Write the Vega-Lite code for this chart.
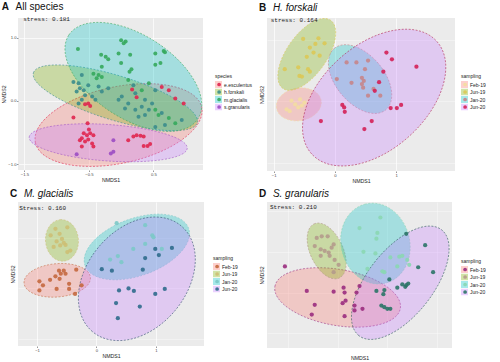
{
  "$schema": "https://vega.github.io/schema/vega-lite/v6.json",
  "background": "white",
  "padding": {"left": 1, "top": 2, "right": 0, "bottom": 0},
  "config": {
    "font": "Liberation Sans",
    "view": {"fill": "#EBEBEB", "stroke": null},
    "axis": {"grid": true, "gridColor": "#FFFFFF", "gridWidth": 0.7, "domain": false, "tickColor": "#333333", "tickSize": 1.5, "tickWidth": 0.5, "labelFontSize": 4.2, "labelColor": "#4D4D4D", "labelPadding": 0.5, "titleFontSize": 5.2, "titleFontWeight": "normal", "titleColor": "#222222", "titlePadding": 1},
    "legend": {"titleFontSize": 5, "titleFontWeight": "normal", "labelFontSize": 5, "clipHeight": 7, "rowPadding": 0.5, "titlePadding": 2, "symbolStrokeWidth": 0, "labelOffset": 2, "titleColor": "#222222", "labelColor": "#222222"},
    "title": {"fontSize": 10, "fontWeight": "bold", "anchor": "start", "frame": "bounds", "color": "#111111", "offset": 4, "subtitleFontSize": 10, "subtitleColor": "#111111", "subtitlePadding": -10}
  },
  "resolve": {"scale": {"color": "independent", "fill": "independent", "stroke": "independent", "shape": "independent", "size": "independent", "x": "independent", "y": "independent"}},
  "columns": 2,
  "spacing": {"row": 5, "column": 6},
  "concat": [
    {
      "title": {"text": "A", "subtitle": "\u200b\u00a0\u00a0\u00a0\u00a0\u00a0All species", "subtitleFontStyle": "normal"},
      "width": 185,
      "height": 152,
      "layer": [
        {
          "data": {"values": [
            {"g": "e.esculentus", "x": -0.04, "y": -0.38, "major": 2.64, "angle": -12},
            {"g": "h.forskali", "x": -0.09, "y": 0.05, "major": 2.66, "angle": 17},
            {"g": "m.glacialis", "x": 0.19, "y": 0.38, "major": 2.39, "angle": 33},
            {"g": "s.granularis", "x": -0.2, "y": -0.66, "major": 2.46, "angle": 4}
          ]},
          "mark": {"type": "point", "filled": true, "clip": true, "opacity": 1, "fillOpacity": 0.3, "strokeOpacity": 0.9, "strokeWidth": 0.6, "strokeDash": [2, 1.5]},
          "encoding": {
            "x": {"field": "x", "type": "quantitative", "scale": {"domain": [-1.6, 1.27], "nice": false, "zero": false}, "axis": {"values": [-1.5, -1.25, -1, -0.75, -0.5, -0.25, 0, 0.25, 0.5, 0.75, 1, 1.25], "format": ".1f", "title": "NMDS1", "labelExpr": "abs(datum.value*2 - round(datum.value*2)) > 0.01 ? '' : datum.label", "gridWidth": {"condition": {"test": "abs(datum.value*2 - round(datum.value*2)) > 0.01", "value": 0.35}, "value": 0.7}, "tickOpacity": {"condition": {"test": "abs(datum.value*2 - round(datum.value*2)) > 0.01", "value": 0}, "value": 1}}},
            "y": {"field": "y", "type": "quantitative", "scale": {"domain": [-1.09, 1.31], "nice": false, "zero": false}, "axis": {"values": [-1, -0.75, -0.5, -0.25, 0, 0.25, 0.5, 0.75, 1, 1.25], "format": ".1f", "title": "NMDS2", "labelExpr": "abs(datum.value*2 - round(datum.value*2)) > 0.01 ? '' : datum.label", "gridWidth": {"condition": {"test": "abs(datum.value*2 - round(datum.value*2)) > 0.01", "value": 0.35}, "value": 0.7}, "tickOpacity": {"condition": {"test": "abs(datum.value*2 - round(datum.value*2)) > 0.01", "value": 0}, "value": 1}}},
            "shape": {"field": "g", "type": "nominal", "sort": ["e.esculentus", "h.forskali", "m.glacialis", "s.granularis"], "scale": {"range": ["M-1,0A1,0.45,0,1,1,1,0A1,0.45,0,1,1,-1,0Z", "M-1,0A1,0.26,0,1,1,1,0A1,0.26,0,1,1,-1,0Z", "M-1,0A1,0.54,0,1,1,1,0A1,0.54,0,1,1,-1,0Z", "M-1,0A1,0.23,0,1,1,1,0A1,0.23,0,1,1,-1,0Z"]}, "legend": null},
            "size": {"field": "major", "type": "quantitative", "scale": {"type": "pow", "exponent": 2, "domain": [0, 1], "range": [0, 4147]}, "legend": null},
            "angle": {"field": "angle", "type": "quantitative", "scale": null},
            "fill": {"field": "g", "type": "nominal", "scale": {"domain": ["e.esculentus", "h.forskali", "m.glacialis", "s.granularis"], "range": ["#F8766D", "#7CAE00", "#00BFC4", "#C77CFF"]}, "legend": {"title": "species", "orient": "none", "legendX": 197, "legendY": 56, "zindex": 0, "symbolType": "square", "symbolSize": 49, "symbolOpacity": 0.35}},
            "stroke": {"field": "g", "type": "nominal", "sort": ["e.esculentus", "h.forskali", "m.glacialis", "s.granularis"], "scale": {"range": ["#E0264F", "#3A8C8C", "#35A85C", "#9B4DC3"]}, "legend": null}
          }
        },
        {
          "data": {"values": [
            {"g": "m.glacialis", "x": -0.67, "y": 0.82}, {"g": "m.glacialis", "x": 0.0, "y": 0.96}, {"g": "m.glacialis", "x": 0.07, "y": 0.94}, {"g": "m.glacialis", "x": 0.04, "y": 0.91}, {"g": "m.glacialis", "x": -0.31, "y": 0.73}, {"g": "m.glacialis", "x": -0.24, "y": 0.7}, {"g": "m.glacialis", "x": -0.2, "y": 0.66}, {"g": "m.glacialis", "x": -0.04, "y": 0.75}, {"g": "m.glacialis", "x": 0.0, "y": 0.6}, {"g": "m.glacialis", "x": 0.14, "y": 0.73}, {"g": "m.glacialis", "x": 0.53, "y": 0.75}, {"g": "m.glacialis", "x": 0.66, "y": 0.79}, {"g": "m.glacialis", "x": 0.68, "y": 0.77}, {"g": "m.glacialis", "x": 0.61, "y": 0.6}, {"g": "m.glacialis", "x": 0.53, "y": 0.57}, {"g": "m.glacialis", "x": -0.3, "y": 0.54}, {"g": "m.glacialis", "x": 0.16, "y": 0.5}, {"g": "m.glacialis", "x": 0.13, "y": 0.46}, {"g": "m.glacialis", "x": -0.43, "y": 0.43}, {"g": "m.glacialis", "x": -0.35, "y": 0.41}, {"g": "m.glacialis", "x": -0.3, "y": 0.38}, {"g": "m.glacialis", "x": -0.38, "y": 0.36}, {"g": "m.glacialis", "x": 0.11, "y": 0.33}, {"g": "m.glacialis", "x": 0.43, "y": 0.28}, {"g": "m.glacialis", "x": 0.32, "y": 0.17}, {"g": "m.glacialis", "x": 0.53, "y": -0.14}, {"g": "m.glacialis", "x": 0.74, "y": -0.27}, {"g": "m.glacialis", "x": 0.84, "y": -0.35}, {"g": "m.glacialis", "x": 0.58, "y": -0.22},
            {"g": "h.forskali", "x": -0.61, "y": 0.41}, {"g": "h.forskali", "x": -0.74, "y": 0.3}, {"g": "h.forskali", "x": -0.66, "y": 0.28}, {"g": "h.forskali", "x": -0.64, "y": 0.2}, {"g": "h.forskali", "x": -0.58, "y": 0.17}, {"g": "h.forskali", "x": -0.69, "y": 0.15}, {"g": "h.forskali", "x": -0.51, "y": 0.25}, {"g": "h.forskali", "x": -0.56, "y": 0.09}, {"g": "h.forskali", "x": -0.45, "y": 0.07}, {"g": "h.forskali", "x": -0.61, "y": 0.02}, {"g": "h.forskali", "x": -0.2, "y": 0.2}, {"g": "h.forskali", "x": -0.3, "y": 0.15}, {"g": "h.forskali", "x": -0.35, "y": 0.23}, {"g": "h.forskali", "x": -0.4, "y": 0.02}, {"g": "h.forskali", "x": -0.66, "y": -0.04}, {"g": "h.forskali", "x": 0.19, "y": 0.25}, {"g": "h.forskali", "x": 0.22, "y": 0.12}, {"g": "h.forskali", "x": 0.53, "y": 0.17}, {"g": "h.forskali", "x": 0.37, "y": 0.02}, {"g": "h.forskali", "x": 0.48, "y": -0.04}, {"g": "h.forskali", "x": 0.32, "y": -0.09}, {"g": "h.forskali", "x": 0.43, "y": -0.14}, {"g": "h.forskali", "x": 0.63, "y": -0.19}, {"g": "h.forskali", "x": 0.94, "y": -0.3}, {"g": "h.forskali", "x": 0.68, "y": -0.38}, {"g": "h.forskali", "x": 0.53, "y": -0.41}, {"g": "h.forskali", "x": 0.11, "y": -0.04}, {"g": "h.forskali", "x": 0.01, "y": 0.07}, {"g": "h.forskali", "x": -0.04, "y": 0.02}, {"g": "h.forskali", "x": 0.22, "y": -0.14}, {"g": "h.forskali", "x": 0.06, "y": -0.12}, {"g": "h.forskali", "x": 0.27, "y": -0.25}, {"g": "h.forskali", "x": 0.37, "y": -0.22},
            {"g": "e.esculentus", "x": 0.63, "y": 0.22}, {"g": "e.esculentus", "x": 0.74, "y": 0.17}, {"g": "e.esculentus", "x": 0.84, "y": 0.04}, {"g": "e.esculentus", "x": 0.97, "y": -0.04}, {"g": "e.esculentus", "x": -0.56, "y": -0.05}, {"g": "e.esculentus", "x": -0.51, "y": -0.04}, {"g": "e.esculentus", "x": -0.48, "y": -0.08}, {"g": "e.esculentus", "x": 0.24, "y": 0.06}, {"g": "e.esculentus", "x": 0.17, "y": 0.18}, {"g": "e.esculentus", "x": -0.74, "y": -0.26}, {"g": "e.esculentus", "x": -0.52, "y": -0.35}, {"g": "e.esculentus", "x": -0.5, "y": -0.45}, {"g": "e.esculentus", "x": -0.58, "y": -0.51}, {"g": "e.esculentus", "x": -0.53, "y": -0.54}, {"g": "e.esculentus", "x": -0.61, "y": -0.59}, {"g": "e.esculentus", "x": -0.48, "y": -0.51}, {"g": "e.esculentus", "x": -0.43, "y": -0.54}, {"g": "e.esculentus", "x": -0.64, "y": -0.62}, {"g": "e.esculentus", "x": -0.56, "y": -0.64}, {"g": "e.esculentus", "x": -0.45, "y": -0.67}, {"g": "e.esculentus", "x": -0.43, "y": -0.72}, {"g": "e.esculentus", "x": -0.61, "y": -0.72}, {"g": "e.esculentus", "x": -0.51, "y": -0.61}, {"g": "e.esculentus", "x": 0.11, "y": -0.62}, {"g": "e.esculentus", "x": 0.19, "y": -0.56}, {"g": "e.esculentus", "x": 0.24, "y": -0.54}, {"g": "e.esculentus", "x": 0.3, "y": -0.55}, {"g": "e.esculentus", "x": 0.35, "y": -0.56}, {"g": "e.esculentus", "x": 0.41, "y": -0.71}, {"g": "e.esculentus", "x": 0.45, "y": -0.68}, {"g": "e.esculentus", "x": 0.35, "y": -0.71},
            {"g": "s.granularis", "x": -0.69, "y": -0.84}, {"g": "s.granularis", "x": -0.16, "y": -0.83}, {"g": "s.granularis", "x": -0.12, "y": -0.8}, {"g": "s.granularis", "x": -0.12, "y": -0.62}
          ]},
          "mark": {"type": "point", "filled": true, "opacity": 0.9, "size": 16},
          "encoding": {
            "x": {"field": "x", "type": "quantitative"},
            "y": {"field": "y", "type": "quantitative"},
            "color": {"field": "g", "type": "nominal", "sort": ["e.esculentus", "h.forskali", "m.glacialis", "s.granularis"], "scale": {"range": ["#E0264F", "#3A8C8C", "#35A85C", "#9B4DC3"]}, "legend": {"title": "species", "orient": "right", "offset": 12, "zindex": 1, "titlePadding": 58, "symbolType": "circle", "symbolSize": 14, "symbolOffset": 1.6, "labelOpacity": 0, "titleOpacity": 0}}
          }
        },
        {
          "data": {"values": [{"x": -1.52, "y": 1.29, "label": "stress: 0.181"}]},
          "mark": {"type": "text", "font": "Liberation Mono", "fontSize": 6, "align": "left", "baseline": "middle", "color": "#222222"},
          "encoding": {"x": {"field": "x", "type": "quantitative"}, "y": {"field": "y", "type": "quantitative"}, "text": {"field": "label"}}
        }
      ]
    },
    {
      "title": {"text": "B", "subtitle": "\u200b\u00a0\u00a0\u00a0\u00a0\u00a0H. forskali", "subtitleFontStyle": "italic"},
      "width": 188,
      "height": 153,
      "layer": [
        {
          "data": {"values": [
            {"g": "Feb-19", "x": -0.59, "y": -0.3, "major": 0.74, "angle": -10},
            {"g": "Jun-19", "x": -0.46, "y": 0.51, "major": 1.36, "angle": -55},
            {"g": "Jan-20", "x": 0.41, "y": 0.11, "major": 1.31, "angle": 50},
            {"g": "Jun-20", "x": 0.64, "y": -0.19, "major": 2.75, "angle": -42}
          ]},
          "mark": {"type": "point", "filled": true, "clip": true, "opacity": 1, "fillOpacity": 0.3, "strokeOpacity": 0.9, "strokeWidth": 0.6, "strokeDash": [2, 1.5]},
          "encoding": {
            "x": {"field": "x", "type": "quantitative", "scale": {"domain": [-1.11, 1.96], "nice": false, "zero": false}, "axis": {"values": [-1, -0.5, 0, 0.5, 1, 1.5], "format": "d", "title": "NMDS1", "labelExpr": "abs(datum.value - round(datum.value)) > 0.01 ? '' : datum.label", "gridWidth": {"condition": {"test": "abs(datum.value - round(datum.value)) > 0.01", "value": 0.35}, "value": 0.7}, "tickOpacity": {"condition": {"test": "abs(datum.value - round(datum.value)) > 0.01", "value": 0}, "value": 1}}},
            "y": {"field": "y", "type": "quantitative", "scale": {"domain": [-1.38, 1.1], "nice": false, "zero": false}, "axis": {"values": [-1.25, -1, -0.75, -0.5, -0.25, 0, 0.25, 0.5, 0.75, 1], "format": ".1f", "title": "NMDS2", "labelExpr": "abs(datum.value*2 - round(datum.value*2)) > 0.01 ? '' : datum.label", "gridWidth": {"condition": {"test": "abs(datum.value*2 - round(datum.value*2)) > 0.01", "value": 0.35}, "value": 0.7}, "tickOpacity": {"condition": {"test": "abs(datum.value*2 - round(datum.value*2)) > 0.01", "value": 0}, "value": 1}}},
            "shape": {"field": "g", "type": "nominal", "sort": ["Feb-19", "Jun-19", "Jan-20", "Jun-20"], "scale": {"range": ["M-1,0A1,0.72,0,1,1,1,0A1,0.72,0,1,1,-1,0Z", "M-1,0A1,0.48,0,1,1,1,0A1,0.48,0,1,1,-1,0Z", "M-1,0A1,0.6,0,1,1,1,0A1,0.6,0,1,1,-1,0Z", "M-1,0A1,0.62,0,1,1,1,0A1,0.62,0,1,1,-1,0Z"]}, "legend": null},
            "size": {"field": "major", "type": "quantitative", "scale": {"type": "pow", "exponent": 2, "domain": [0, 1], "range": [0, 3745]}, "legend": null},
            "angle": {"field": "angle", "type": "quantitative", "scale": null},
            "fill": {"field": "g", "type": "nominal", "scale": {"domain": ["Feb-19", "Jun-19", "Jan-20", "Jun-20"], "range": ["#F8766D", "#7CAE00", "#00BFC4", "#C77CFF"]}, "legend": {"title": "sampling", "orient": "none", "legendX": 194, "legendY": 56, "zindex": 0, "symbolType": "square", "symbolSize": 49, "symbolOpacity": 0.35}},
            "stroke": {"field": "g", "type": "nominal", "sort": ["Feb-19", "Jun-19", "Jan-20", "Jun-20"], "scale": {"range": ["#F3DDA0", "#DCC856", "#C7858A", "#B0204F"]}, "legend": null}
          }
        },
        {
          "data": {"values": [
            {"g": "Jun-19", "x": -0.52, "y": 0.76}, {"g": "Jun-19", "x": -0.27, "y": 0.77}, {"g": "Jun-19", "x": -0.17, "y": 0.69}, {"g": "Jun-19", "x": -0.32, "y": 0.68}, {"g": "Jun-19", "x": -0.41, "y": 0.62}, {"g": "Jun-19", "x": -0.35, "y": 0.54}, {"g": "Jun-19", "x": -0.46, "y": 0.47}, {"g": "Jun-19", "x": -0.25, "y": 0.49}, {"g": "Jun-19", "x": -0.6, "y": 0.3}, {"g": "Jun-19", "x": -0.44, "y": 0.27}, {"g": "Jun-19", "x": -0.41, "y": 0.23}, {"g": "Jun-19", "x": -0.82, "y": 0.27}, {"g": "Jun-19", "x": -0.58, "y": 0.16}, {"g": "Jun-19", "x": -0.54, "y": 0.15},
            {"g": "Feb-19", "x": -0.71, "y": -0.24}, {"g": "Feb-19", "x": -0.65, "y": -0.3}, {"g": "Feb-19", "x": -0.6, "y": -0.35}, {"g": "Feb-19", "x": -0.54, "y": -0.32}, {"g": "Feb-19", "x": -0.79, "y": -0.38}, {"g": "Feb-19", "x": -0.57, "y": -0.22}, {"g": "Feb-19", "x": -0.74, "y": -0.41}, {"g": "Feb-19", "x": -0.5, "y": -0.27},
            {"g": "Jan-20", "x": 0.19, "y": 0.38}, {"g": "Jan-20", "x": 0.35, "y": 0.38}, {"g": "Jan-20", "x": 0.54, "y": 0.41}, {"g": "Jan-20", "x": 0.03, "y": 0.11}, {"g": "Jan-20", "x": 0.27, "y": 0.05}, {"g": "Jan-20", "x": 0.44, "y": 0.13}, {"g": "Jan-20", "x": 0.47, "y": 0.08}, {"g": "Jan-20", "x": 0.44, "y": 0.03}, {"g": "Jan-20", "x": 0.46, "y": -0.03}, {"g": "Jan-20", "x": 0.63, "y": -0.05}, {"g": "Jan-20", "x": 0.54, "y": -0.16}, {"g": "Jan-20", "x": 0.74, "y": -0.16}, {"g": "Jan-20", "x": 0.49, "y": 0.27},
            {"g": "Jun-20", "x": 0.84, "y": 0.54}, {"g": "Jun-20", "x": 0.93, "y": 0.43}, {"g": "Jun-20", "x": 1.33, "y": 0.31}, {"g": "Jun-20", "x": 0.79, "y": 0.23}, {"g": "Jun-20", "x": 0.72, "y": 0.06}, {"g": "Jun-20", "x": 0.65, "y": -0.08}, {"g": "Jun-20", "x": 0.12, "y": -0.31}, {"g": "Jun-20", "x": 0.15, "y": -0.35}, {"g": "Jun-20", "x": 0.16, "y": -0.42}, {"g": "Jun-20", "x": -0.23, "y": -0.57}, {"g": "Jun-20", "x": 0.6, "y": -0.57}, {"g": "Jun-20", "x": 0.48, "y": -0.7}, {"g": "Jun-20", "x": 0.91, "y": -0.36}, {"g": "Jun-20", "x": 1.01, "y": -0.36}, {"g": "Jun-20", "x": 1.08, "y": -0.31}
          ]},
          "mark": {"type": "point", "filled": true, "opacity": 0.9, "size": 18},
          "encoding": {
            "x": {"field": "x", "type": "quantitative"},
            "y": {"field": "y", "type": "quantitative"},
            "color": {"field": "g", "type": "nominal", "sort": ["Feb-19", "Jun-19", "Jan-20", "Jun-20"], "scale": {"range": ["#F3DDA0", "#DCC856", "#C7858A", "#D42056"]}, "legend": {"title": "sampling", "orient": "right", "offset": 6, "zindex": 1, "titlePadding": 58, "symbolType": "circle", "symbolSize": 14, "symbolOffset": 1.6, "labelOpacity": 0, "titleOpacity": 0}}
          }
        },
        {
          "data": {"values": [{"x": -1.05, "y": 1.07, "label": "stress: 0.164"}]},
          "mark": {"type": "text", "font": "Liberation Mono", "fontSize": 6, "align": "left", "baseline": "middle", "color": "#222222"},
          "encoding": {"x": {"field": "x", "type": "quantitative"}, "y": {"field": "y", "type": "quantitative"}, "text": {"field": "label"}}
        }
      ]
    },
    {
      "title": {"text": "C", "subtitle": "\u200b\u00a0\u00a0\u00a0\u00a0\u00a0M. glacialis", "subtitleFontStyle": "italic", "offset": 3},
      "width": 186,
      "height": 144,
      "layer": [
        {
          "data": {"values": [
            {"g": "Feb-19", "x": -0.66, "y": -0.34, "major": 1.12, "angle": -5},
            {"g": "Jun-19", "x": -0.58, "y": 0.45, "major": 0.7, "angle": 85},
            {"g": "Jan-20", "x": 0.68, "y": 0.32, "major": 1.85, "angle": -20},
            {"g": "Jun-20", "x": 0.68, "y": -0.31, "major": 2.32, "angle": -50}
          ]},
          "mark": {"type": "point", "filled": true, "clip": true, "opacity": 1, "fillOpacity": 0.3, "strokeOpacity": 0.9, "strokeWidth": 0.6, "strokeDash": [2, 1.5]},
          "encoding": {
            "x": {"field": "x", "type": "quantitative", "scale": {"domain": [-1.32, 1.81], "nice": false, "zero": false}, "axis": {"values": [-1, -0.5, 0, 0.5, 1, 1.5], "format": "d", "title": "NMDS1", "labelExpr": "abs(datum.value - round(datum.value)) > 0.01 ? '' : datum.label", "gridWidth": {"condition": {"test": "abs(datum.value - round(datum.value)) > 0.01", "value": 0.35}, "value": 0.7}, "tickOpacity": {"condition": {"test": "abs(datum.value - round(datum.value)) > 0.01", "value": 0}, "value": 1}}},
            "y": {"field": "y", "type": "quantitative", "scale": {"domain": [-1.64, 1.21], "nice": false, "zero": false}, "axis": {"values": [-1.5, -1, -0.5, 0, 0.5, 1], "format": "d", "title": "NMDS2", "labelExpr": "abs(datum.value - round(datum.value)) > 0.01 ? '' : datum.label", "gridWidth": {"condition": {"test": "abs(datum.value - round(datum.value)) > 0.01", "value": 0.35}, "value": 0.7}, "tickOpacity": {"condition": {"test": "abs(datum.value - round(datum.value)) > 0.01", "value": 0}, "value": 1}}},
            "shape": {"field": "g", "type": "nominal", "sort": ["Feb-19", "Jun-19", "Jan-20", "Jun-20"], "scale": {"range": ["M-1,0A1,0.5,0,1,1,1,0A1,0.5,0,1,1,-1,0Z", "M-1,0A1,0.79,0,1,1,1,0A1,0.79,0,1,1,-1,0Z", "M-1,0A1,0.52,0,1,1,1,0A1,0.52,0,1,1,-1,0Z", "M-1,0A1,0.72,0,1,1,1,0A1,0.72,0,1,1,-1,0Z"]}, "legend": null},
            "size": {"field": "major", "type": "quantitative", "scale": {"type": "pow", "exponent": 2, "domain": [0, 1], "range": [0, 3540]}, "legend": null},
            "angle": {"field": "angle", "type": "quantitative", "scale": null},
            "fill": {"field": "g", "type": "nominal", "scale": {"domain": ["Feb-19", "Jun-19", "Jan-20", "Jun-20"], "range": ["#F8766D", "#7CAE00", "#00BFC4", "#C77CFF"]}, "legend": {"title": "sampling", "orient": "none", "legendX": 195, "legendY": 54, "zindex": 0, "symbolType": "square", "symbolSize": 49, "symbolOpacity": 0.35}},
            "stroke": {"field": "g", "type": "nominal", "sort": ["Feb-19", "Jun-19", "Jan-20", "Jun-20"], "scale": {"range": ["#C4683E", "#CDBF74", "#7CC9C8", "#2F4F6C"]}, "legend": null}
          }
        },
        {
          "data": {"values": [
            {"g": "Jun-19", "x": -0.69, "y": 0.68}, {"g": "Jun-19", "x": -0.49, "y": 0.71}, {"g": "Jun-19", "x": -0.77, "y": 0.55}, {"g": "Jun-19", "x": -0.62, "y": 0.58}, {"g": "Jun-19", "x": -0.58, "y": 0.48}, {"g": "Jun-19", "x": -0.67, "y": 0.43}, {"g": "Jun-19", "x": -0.52, "y": 0.36}, {"g": "Jun-19", "x": -0.72, "y": 0.32}, {"g": "Jun-19", "x": -0.61, "y": 0.35}, {"g": "Jun-19", "x": -0.49, "y": 0.22}, {"g": "Jun-19", "x": -0.44, "y": 0.25}, {"g": "Jun-19", "x": -0.55, "y": 0.4},
            {"g": "Feb-19", "x": -0.63, "y": -0.15}, {"g": "Feb-19", "x": -0.55, "y": -0.15}, {"g": "Feb-19", "x": -0.6, "y": -0.21}, {"g": "Feb-19", "x": -0.52, "y": -0.21}, {"g": "Feb-19", "x": -0.34, "y": -0.13}, {"g": "Feb-19", "x": -0.96, "y": -0.36}, {"g": "Feb-19", "x": -0.9, "y": -0.44}, {"g": "Feb-19", "x": -0.78, "y": -0.33}, {"g": "Feb-19", "x": -0.62, "y": -0.31}, {"g": "Feb-19", "x": -0.46, "y": -0.41}, {"g": "Feb-19", "x": -0.25, "y": -0.44}, {"g": "Feb-19", "x": -0.96, "y": -0.54}, {"g": "Feb-19", "x": -0.67, "y": -0.51}, {"g": "Feb-19", "x": -0.46, "y": -0.51}, {"g": "Feb-19", "x": -0.36, "y": -0.61}, {"g": "Feb-19", "x": -0.69, "y": -0.26},
            {"g": "Jan-20", "x": 0.34, "y": 0.79}, {"g": "Jan-20", "x": 0.82, "y": 0.75}, {"g": "Jan-20", "x": 0.94, "y": 0.55}, {"g": "Jan-20", "x": 0.96, "y": 0.51}, {"g": "Jan-20", "x": 0.82, "y": 0.38}, {"g": "Jan-20", "x": 1.1, "y": 0.28}, {"g": "Jan-20", "x": 0.62, "y": 0.28}, {"g": "Jan-20", "x": 0.23, "y": 0.07}, {"g": "Jan-20", "x": 0.36, "y": 0.14}, {"g": "Jan-20", "x": 0.42, "y": 0.02},
            {"g": "Jun-20", "x": 0.99, "y": 0.28}, {"g": "Jun-20", "x": 1.05, "y": 0.16}, {"g": "Jun-20", "x": 1.27, "y": 0.3}, {"g": "Jun-20", "x": 0.82, "y": 0.1}, {"g": "Jun-20", "x": 0.78, "y": -0.13}, {"g": "Jun-20", "x": 0.09, "y": -0.12}, {"g": "Jun-20", "x": 0.26, "y": -0.15}, {"g": "Jun-20", "x": 0.38, "y": -0.54}, {"g": "Jun-20", "x": 0.54, "y": -0.5}, {"g": "Jun-20", "x": 0.63, "y": -0.55}, {"g": "Jun-20", "x": 0.99, "y": -0.61}, {"g": "Jun-20", "x": 1.15, "y": -0.51}, {"g": "Jun-20", "x": 0.33, "y": -0.79}, {"g": "Jun-20", "x": 0.73, "y": -0.86}, {"g": "Jun-20", "x": 0.36, "y": -1.09}
          ]},
          "mark": {"type": "point", "filled": true, "opacity": 0.9, "size": 18},
          "encoding": {
            "x": {"field": "x", "type": "quantitative"},
            "y": {"field": "y", "type": "quantitative"},
            "color": {"field": "g", "type": "nominal", "sort": ["Feb-19", "Jun-19", "Jan-20", "Jun-20"], "scale": {"range": ["#C4683E", "#CDBF74", "#7CC9C8", "#2F6C8C"]}, "legend": {"title": "sampling", "orient": "right", "offset": 9, "zindex": 1, "titlePadding": 56, "symbolType": "circle", "symbolSize": 14, "symbolOffset": 1.6, "labelOpacity": 0, "titleOpacity": 0}}
          }
        },
        {
          "data": {"values": [{"x": -1.3, "y": 1.095, "label": "Stress: 0.160"}]},
          "mark": {"type": "text", "font": "Liberation Mono", "fontSize": 6, "align": "left", "baseline": "middle", "color": "#222222"},
          "encoding": {"x": {"field": "x", "type": "quantitative"}, "y": {"field": "y", "type": "quantitative"}, "text": {"field": "label"}}
        }
      ]
    },
    {
      "title": {"text": "D", "subtitle": "\u200b\u00a0\u00a0\u00a0\u00a0\u00a0S. granularis", "subtitleFontStyle": "italic", "offset": 3},
      "width": 185,
      "height": 146,
      "layer": [
        {
          "data": {"values": [
            {"g": "Feb-19", "x": -0.25, "y": -0.31, "major": 1.28, "angle": 10},
            {"g": "Jun-19", "x": -0.36, "y": 0.26, "major": 0.6, "angle": 65},
            {"g": "Jan-20", "x": 0.13, "y": 0.35, "major": 0.82, "angle": 75},
            {"g": "Jun-20", "x": 0.38, "y": -0.13, "major": 1.35, "angle": -52}
          ]},
          "mark": {"type": "point", "filled": true, "clip": true, "opacity": 1, "fillOpacity": 0.3, "strokeOpacity": 0.9, "strokeWidth": 0.6, "strokeDash": [2, 1.5]},
          "encoding": {
            "x": {"field": "x", "type": "quantitative", "scale": {"domain": [-0.96, 0.9], "nice": false, "zero": false}, "axis": {"values": [-0.75, -0.5, -0.25, 0, 0.25, 0.5, 0.75], "format": ".1f", "title": "NMDS1", "labelExpr": "abs(datum.value*2 - round(datum.value*2)) > 0.01 ? '' : datum.label", "gridWidth": {"condition": {"test": "abs(datum.value*2 - round(datum.value*2)) > 0.01", "value": 0.35}, "value": 0.7}, "tickOpacity": {"condition": {"test": "abs(datum.value*2 - round(datum.value*2)) > 0.01", "value": 0}, "value": 1}}},
            "y": {"field": "y", "type": "quantitative", "scale": {"domain": [-0.93, 0.86], "nice": false, "zero": false}, "axis": {"values": [-0.75, -0.5, -0.25, 0, 0.25, 0.5, 0.75], "format": ".1f", "title": "NMDS2", "labelExpr": "abs(datum.value*2 - round(datum.value*2)) > 0.01 ? '' : datum.label", "gridWidth": {"condition": {"test": "abs(datum.value*2 - round(datum.value*2)) > 0.01", "value": 0.35}, "value": 0.7}, "tickOpacity": {"condition": {"test": "abs(datum.value*2 - round(datum.value*2)) > 0.01", "value": 0}, "value": 1}}},
            "shape": {"field": "g", "type": "nominal", "sort": ["Feb-19", "Jun-19", "Jan-20", "Jun-20"], "scale": {"range": ["M-1,0A1,0.44,0,1,1,1,0A1,0.44,0,1,1,-1,0Z", "M-1,0A1,0.55,0,1,1,1,0A1,0.55,0,1,1,-1,0Z", "M-1,0A1,0.84,0,1,1,1,0A1,0.84,0,1,1,-1,0Z", "M-1,0A1,0.49,0,1,1,1,0A1,0.49,0,1,1,-1,0Z"]}, "legend": null},
            "size": {"field": "major", "type": "quantitative", "scale": {"type": "pow", "exponent": 2, "domain": [0, 1], "range": [0, 9900]}, "legend": null},
            "angle": {"field": "angle", "type": "quantitative", "scale": null},
            "fill": {"field": "g", "type": "nominal", "scale": {"domain": ["Feb-19", "Jun-19", "Jan-20", "Jun-20"], "range": ["#F8766D", "#7CAE00", "#00BFC4", "#C77CFF"]}, "legend": {"title": "sampling", "orient": "none", "legendX": 194, "legendY": 57, "zindex": 0, "symbolType": "square", "symbolSize": 49, "symbolOpacity": 0.35}},
            "stroke": {"field": "g", "type": "nominal", "sort": ["Feb-19", "Jun-19", "Jan-20", "Jun-20"], "scale": {"range": ["#9A2C7E", "#B49A8C", "#8BD7B2", "#2B5A57"]}, "legend": null}
          }
        },
        {
          "data": {"values": [
            {"g": "Feb-19", "x": -0.78, "y": 0.07}, {"g": "Feb-19", "x": -0.56, "y": -0.23}, {"g": "Feb-19", "x": -0.48, "y": -0.4}, {"g": "Feb-19", "x": -0.51, "y": -0.52}, {"g": "Feb-19", "x": -0.29, "y": -0.24}, {"g": "Feb-19", "x": -0.19, "y": -0.19}, {"g": "Feb-19", "x": -0.18, "y": -0.25}, {"g": "Feb-19", "x": -0.06, "y": -0.25}, {"g": "Feb-19", "x": -0.03, "y": -0.17}, {"g": "Feb-19", "x": -0.2, "y": -0.38}, {"g": "Feb-19", "x": -0.17, "y": -0.35}, {"g": "Feb-19", "x": -0.08, "y": -0.41}, {"g": "Feb-19", "x": -0.08, "y": -0.47}, {"g": "Feb-19", "x": 0.0, "y": -0.45}, {"g": "Feb-19", "x": -0.18, "y": -0.54},
            {"g": "Jun-19", "x": -0.46, "y": 0.42}, {"g": "Jun-19", "x": -0.41, "y": 0.44}, {"g": "Jun-19", "x": -0.35, "y": 0.44}, {"g": "Jun-19", "x": -0.48, "y": 0.32}, {"g": "Jun-19", "x": -0.42, "y": 0.28}, {"g": "Jun-19", "x": -0.38, "y": 0.26}, {"g": "Jun-19", "x": -0.34, "y": 0.24}, {"g": "Jun-19", "x": -0.29, "y": 0.34}, {"g": "Jun-19", "x": -0.31, "y": 0.3}, {"g": "Jun-19", "x": -0.28, "y": 0.15}, {"g": "Jun-19", "x": -0.24, "y": 0.09}, {"g": "Jun-19", "x": -0.29, "y": 0.0}, {"g": "Jun-19", "x": -0.33, "y": 0.2}, {"g": "Jun-19", "x": -0.42, "y": 0.2},
            {"g": "Jan-20", "x": 0.18, "y": 0.67}, {"g": "Jan-20", "x": -0.03, "y": 0.54}, {"g": "Jan-20", "x": 0.15, "y": 0.48}, {"g": "Jan-20", "x": 0.14, "y": 0.41}, {"g": "Jan-20", "x": 0.01, "y": 0.25}, {"g": "Jan-20", "x": 0.13, "y": 0.23}, {"g": "Jan-20", "x": 0.05, "y": 0.04}, {"g": "Jan-20", "x": 0.22, "y": 0.0}, {"g": "Jan-20", "x": 0.37, "y": 0.19}, {"g": "Jan-20", "x": 0.4, "y": 0.2}, {"g": "Jan-20", "x": 0.45, "y": 0.15}, {"g": "Jan-20", "x": 0.47, "y": 0.09}, {"g": "Jan-20", "x": 0.28, "y": 0.18}, {"g": "Jan-20", "x": 0.2, "y": 0.01}, {"g": "Jan-20", "x": 0.35, "y": 0.07},
            {"g": "Jun-20", "x": 0.44, "y": 0.47}, {"g": "Jun-20", "x": 0.63, "y": 0.33}, {"g": "Jun-20", "x": 0.56, "y": 0.06}, {"g": "Jun-20", "x": 0.71, "y": 0.0}, {"g": "Jun-20", "x": 0.27, "y": -0.09}, {"g": "Jun-20", "x": 0.14, "y": -0.23}, {"g": "Jun-20", "x": 0.22, "y": -0.22}, {"g": "Jun-20", "x": 0.21, "y": -0.27}, {"g": "Jun-20", "x": 0.35, "y": -0.19}, {"g": "Jun-20", "x": 0.4, "y": -0.15}, {"g": "Jun-20", "x": 0.44, "y": -0.16}, {"g": "Jun-20", "x": 0.46, "y": -0.14}, {"g": "Jun-20", "x": 0.43, "y": -0.18}, {"g": "Jun-20", "x": 0.19, "y": -0.41}, {"g": "Jun-20", "x": 0.22, "y": -0.43}, {"g": "Jun-20", "x": 0.25, "y": -0.45}, {"g": "Jun-20", "x": 0.28, "y": -0.45}
          ]},
          "mark": {"type": "point", "filled": true, "opacity": 0.9, "size": 18},
          "encoding": {
            "x": {"field": "x", "type": "quantitative"},
            "y": {"field": "y", "type": "quantitative"},
            "color": {"field": "g", "type": "nominal", "sort": ["Feb-19", "Jun-19", "Jan-20", "Jun-20"], "scale": {"range": ["#9A2C7E", "#B49A8C", "#8BD7B2", "#2B7467"]}, "legend": {"title": "sampling", "orient": "right", "offset": 9, "zindex": 1, "titlePadding": 59, "symbolType": "circle", "symbolSize": 14, "symbolOffset": 1.6, "labelOpacity": 0, "titleOpacity": 0}}
          }
        },
        {
          "data": {"values": [{"x": -0.93, "y": 0.8, "label": "Stress: 0.210"}]},
          "mark": {"type": "text", "font": "Liberation Mono", "fontSize": 6, "align": "left", "baseline": "middle", "color": "#222222"},
          "encoding": {"x": {"field": "x", "type": "quantitative"}, "y": {"field": "y", "type": "quantitative"}, "text": {"field": "label"}}
        }
      ]
    }
  ]
}
